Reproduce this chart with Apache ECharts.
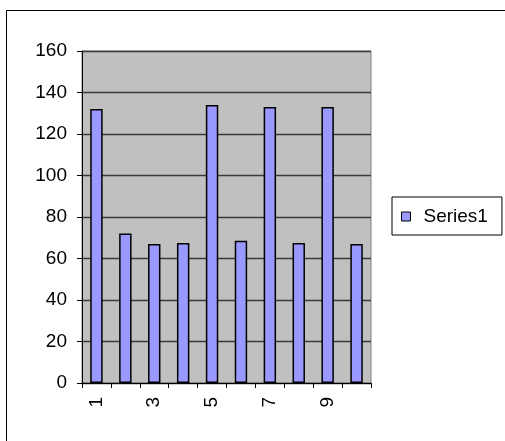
<!DOCTYPE html>
<html>
<head>
<meta charset="utf-8">
<script src="https://cdn.jsdelivr.net/npm/echarts@6/dist/echarts.min.js"></script>
<style>
  html, body { margin: 0; padding: 0; background: #fff; }
  #chart { width: 505px; height: 441px; }
</style>
</head>
<body>
<div id="chart"></div>
<script>
// Category labels along the x axis
const categories = ['1', '2', '3', '4', '5', '6', '7', '8', '9', '10'];
// Values for the single series
const series1 = [132, 72, 67, 67.5, 134, 68.5, 133, 67.5, 133, 67];
// Value axis range
const yMin = 0;
const yMax = 160;
const yStep = 20;
const seriesName = 'Series1';

const FONT = 'Liberation Sans, Arial, sans-serif';

const chart = echarts.init(document.getElementById('chart'), null, { renderer: 'canvas' });

chart.setOption({
  animation: false,
  backgroundColor: '#ffffff',
  graphic: [
    {
      // chart-area frame (top and left edges visible)
      type: 'polyline',
      shape: { points: [[6.5, 441], [6.5, 10.5], [505, 10.5]] },
      style: { stroke: '#000', lineWidth: 1, fill: null },
      silent: true
    }
  ],
  grid: {
    left: 82,
    right: 134,
    top: 51,
    bottom: 58,
    show: true,
    backgroundColor: '#C0C0C0',
    borderColor: '#808080',
    borderWidth: 1
  },
  legend: {
    left: 392,
    top: 197,
    orient: 'vertical',
    padding: [10, 14, 9, 9],
    backgroundColor: '#fff',
    borderColor: '#000',
    borderWidth: 1,
    borderRadius: 0,
    icon: 'rect',
    itemWidth: 9,
    itemHeight: 9,
    itemGap: 0,
    itemStyle: { borderColor: '#000', borderWidth: 1 },
    textStyle: {
      fontFamily: FONT,
      fontSize: 19,
      color: '#000',
      padding: [0, 0, 0, 8]
    },
    data: [seriesName]
  },
  xAxis: {
    type: 'category',
    data: categories,
    boundaryGap: true,
    axisLine: { show: true, lineStyle: { color: '#000', width: 1 } },
    axisTick: { show: true, interval: 0, length: 5, lineStyle: { color: '#000' } },
    axisLabel: {
      interval: 1,
      rotate: 90,
      margin: 14,
      fontFamily: FONT,
      fontSize: 19,
      color: '#000'
    },
    splitLine: { show: false }
  },
  yAxis: {
    type: 'value',
    min: yMin,
    max: yMax,
    interval: yStep,
    axisLine: { show: true, lineStyle: { color: '#000', width: 1 } },
    axisTick: { show: true, length: 5, lineStyle: { color: '#000' } },
    axisLabel: {
      margin: 15,
      fontFamily: FONT,
      fontSize: 19,
      color: '#000'
    },
    splitLine: { show: true, lineStyle: { color: '#3a3a3a', width: 1.3 } }
  },
  series: [
    {
      name: seriesName,
      type: 'bar',
      data: series1,
      barWidth: '43%',
      itemStyle: {
        color: '#9999FF',
        borderColor: '#000',
        borderWidth: 1.5
      }
    }
  ]
});
</script>
</body>
</html>
